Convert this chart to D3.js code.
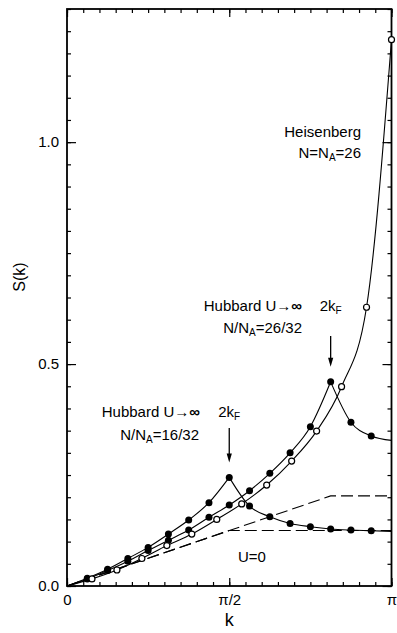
<!DOCTYPE html>
<html>
<head>
<meta charset="utf-8">
<script src="https://cdn.jsdelivr.net/npm/d3@7"></script>
<style>
  html, body { margin: 0; padding: 0; background: #fff; }
  svg { display: block; }
  text { font-family: "Liberation Sans", Arial, Helvetica, sans-serif; fill: #000; }
</style>
</head>
<body>
<svg id="chart" width="397" height="633"></svg>
<script>
// Momenta of the 32-site Hubbard ring (k = 2πn/32) and the 26-site Heisenberg ring (k = 2πn/26)
const kHubbard = d3.range(17).map(n => n * Math.PI / 16);
const kHeisenberg = d3.range(14).map(n => n * Math.PI / 13);

// S(k), Hubbard U→∞, N/N_A = 16/32 (cusp at 2kF = π/2)
const sHubbard16 = [0, 0.0175, 0.0376, 0.062, 0.087, 0.117, 0.1486, 0.1877, 0.2447,
                    0.180, 0.156, 0.141, 0.1336, 0.1284, 0.126, 0.1246, 0.123];
// S(k), Hubbard U→∞, N/N_A = 26/32 (cusp at 2kF = 13π/16)
const sHubbard26 = [0, 0.016, 0.035, 0.056, 0.080, 0.103, 0.126, 0.1547, 0.1824,
                    0.2147, 0.2538, 0.300, 0.359, 0.460, 0.369, 0.338, 0.328];
// S(k), Heisenberg chain N = N_A = 26
const sHeisenberg = [0, 0.016, 0.036, 0.062, 0.091, 0.117, 0.150, 0.185, 0.2275,
                     0.2815, 0.349, 0.449, 0.628, 1.231];

// U = 0 (free fermion) results: linear up to 2kF, flat beyond
const kFree16 = [0, Math.PI / 2, Math.PI];
const sFree16 = [0, 0.125, 0.125];
const kFree26 = [0, 13 * Math.PI / 16, Math.PI];
const sFree26 = [0, 0.203, 0.203];

// Cusp positions (index into kHubbard)
const cusp16 = 8;
const cusp26 = 13;

// Axis ticks
const yMajorTicks = [0, 0.5, 1.0];
const yMajorLabels = ["0.0", "0.5", "1.0"];
const xMajorTicks = [0, Math.PI / 2, Math.PI];
const xMajorLabels = ["0", "π/2", "π"];

const svg = d3.select("#chart");
const plotLeft = 67, plotRight = 391.5, plotTop = 9, plotBottom = 586;

const x = d3.scaleLinear().domain([0, Math.PI]).range([plotLeft, plotRight]);
const y = d3.scaleLinear().domain([0, 1.3]).range([plotBottom, plotTop]);

const yMinor = d3.range(0, 1.3001, 0.05);
const xMinor = d3.range(0, 20.001, 1).map(i => i * Math.PI / 20);

// ---- axes (ticks pointing inward on all four sides) ----
function styleAxis(g) {
  g.select(".domain").remove();
  g.selectAll(".tick line").attr("stroke", "#000").attr("stroke-width", 1.2);
}
function styleLabels(g) {
  g.selectAll("text").attr("font-size", 15)
    .attr("font-family", "Liberation Sans, Arial, sans-serif").attr("fill", "#000");
}
svg.append("g").attr("transform", `translate(${plotLeft},0)`)
  .call(d3.axisLeft(y).tickValues(yMinor).tickSize(-4).tickFormat(""))
  .call(styleAxis);
svg.append("g").attr("transform", `translate(${plotLeft},0)`)
  .call(d3.axisLeft(y).tickValues(yMajorTicks).tickSize(-9).tickPadding(8)
        .tickFormat((d, i) => yMajorLabels[i]))
  .call(styleAxis).call(styleLabels);
svg.append("g").attr("transform", `translate(${plotRight},0)`)
  .call(d3.axisRight(y).tickValues(yMinor).tickSize(-4).tickFormat(""))
  .call(styleAxis);
svg.append("g").attr("transform", `translate(${plotRight},0)`)
  .call(d3.axisRight(y).tickValues(yMajorTicks).tickSize(-9).tickFormat(""))
  .call(styleAxis);
svg.append("g").attr("transform", `translate(0,${plotBottom})`)
  .call(d3.axisBottom(x).tickValues(xMinor).tickSize(-4).tickFormat(""))
  .call(styleAxis);
svg.append("g").attr("transform", `translate(0,${plotBottom})`)
  .call(d3.axisBottom(x).tickValues(xMajorTicks).tickSize(-8).tickPadding(8)
        .tickFormat((d, i) => xMajorLabels[i]))
  .call(styleAxis).call(styleLabels);
svg.append("g").attr("transform", `translate(0,${plotTop})`)
  .call(d3.axisTop(x).tickValues(xMinor).tickSize(-4).tickFormat(""))
  .call(styleAxis);
svg.append("g").attr("transform", `translate(0,${plotTop})`)
  .call(d3.axisTop(x).tickValues(xMajorTicks).tickSize(-8).tickFormat(""))
  .call(styleAxis);

// frame
svg.append("rect")
  .attr("x", plotLeft).attr("y", plotTop)
  .attr("width", plotRight - plotLeft).attr("height", plotBottom - plotTop)
  .attr("fill", "none").attr("stroke", "#000").attr("stroke-width", 1.8);

// axis titles
svg.append("text").attr("x", x(Math.PI / 2)).attr("y", 626)
  .attr("text-anchor", "middle").attr("font-size", 18).text("k");
svg.append("text")
  .attr("transform", "translate(25,277) rotate(-90)")
  .attr("text-anchor", "middle").attr("font-size", 16).text("S(k)");

// ---- curves ----
const smooth = d3.line().x(d => x(d[0])).y(d => y(d[1])).curve(d3.curveMonotoneX);
const straight = d3.line().x(d => x(d[0])).y(d => y(d[1]));
const pairs = (ks, ss) => ks.map((k, i) => [k, ss[i]]);

const hub16 = pairs(kHubbard, sHubbard16);
const hub26 = pairs(kHubbard, sHubbard26);
const heis = pairs(kHeisenberg, sHeisenberg);

const curveG = svg.append("g").attr("fill", "none").attr("stroke", "#000").attr("stroke-width", 1.1);
[hub16.slice(0, cusp16 + 1), hub16.slice(cusp16),
 hub26.slice(0, cusp26 + 1), hub26.slice(cusp26),
 heis].forEach(seg => curveG.append("path").attr("d", smooth(seg)));

// U = 0 dashed lines
[pairs(kFree16, sFree16), pairs(kFree26, sFree26)].forEach(seg =>
  curveG.append("path").attr("d", straight(seg)).attr("stroke-dasharray", "12,5"));

// ---- markers ----
const markG = svg.append("g");
[hub16, hub26].forEach(data => {
  markG.append("g").selectAll("circle").data(data.slice(1, 16)).join("circle")
    .attr("cx", d => x(d[0])).attr("cy", d => y(d[1])).attr("r", 3.5)
    .attr("fill", "#000");
});
markG.append("g").selectAll("circle").data(heis.slice(1)).join("circle")
  .attr("cx", d => x(d[0])).attr("cy", d => y(d[1])).attr("r", 3)
  .attr("fill", "#fff").attr("stroke", "#000").attr("stroke-width", 1.2);

// ---- annotations ----
function arrow(xv, y0, y1) {
  svg.append("line").attr("x1", x(xv)).attr("x2", x(xv)).attr("y1", y0).attr("y2", y1 - 6)
    .attr("stroke", "#000").attr("stroke-width", 1.3);
  svg.append("path")
    .attr("d", `M${x(xv) - 2.6},${y1 - 9} L${x(xv) + 2.6},${y1 - 9} L${x(xv)},${y1} Z`)
    .attr("fill", "#000");
}
function kfLabel(xv, yb) {
  const t = svg.append("text").attr("x", x(xv)).attr("y", yb)
    .attr("text-anchor", "middle").attr("font-size", 15);
  t.append("tspan").text("2k");
  t.append("tspan").attr("font-size", 10).attr("dy", 3).text("F");
}
function ratioLabel(xr, yb, frac) {
  const t = svg.append("text").attr("x", xr).attr("y", yb)
    .attr("text-anchor", "end").attr("font-size", 15);
  t.append("tspan").text("N/N");
  t.append("tspan").attr("font-size", 10).attr("dy", 3).text("A");
  t.append("tspan").attr("dy", -3).text("=" + frac);
}
function hubbardLabel(xr, yb) {
  const t = svg.append("text").attr("x", xr).attr("y", yb)
    .attr("text-anchor", "end").attr("font-size", 15);
  t.append("tspan").text("Hubbard U");
  t.append("tspan").attr("font-weight", "bold").text("→∞");
}

// Heisenberg
svg.append("text").attr("x", 361).attr("y", 137).attr("text-anchor", "end")
  .attr("font-size", 15).text("Heisenberg");
{
  const t = svg.append("text").attr("x", 361).attr("y", 158).attr("text-anchor", "end")
    .attr("font-size", 15);
  t.append("tspan").text("N=N");
  t.append("tspan").attr("font-size", 10).attr("dy", 3).text("A");
  t.append("tspan").attr("dy", -3).text("=26");
}

// Hubbard 26/32
hubbardLabel(302, 311);
ratioLabel(302, 333, "26/32");
kfLabel(kHubbard[cusp26], 311);
arrow(kHubbard[cusp26], 336, y(sHubbard26[cusp26]) - 15);

// Hubbard 16/32
hubbardLabel(200, 417);
ratioLabel(199, 440, "16/32");
kfLabel(kHubbard[cusp16], 417);
arrow(kHubbard[cusp16], 428, y(sHubbard16[cusp16]) - 15);

// U = 0
svg.append("text").attr("x", 252).attr("y", 562).attr("text-anchor", "middle")
  .attr("font-size", 15).text("U=0");
</script>
</body>
</html>
